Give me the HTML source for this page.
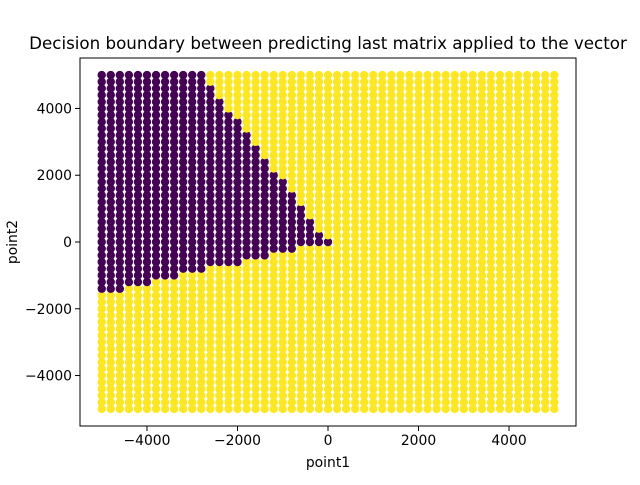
<!DOCTYPE html>
<html><head><meta charset="utf-8"><style>
body{margin:0;background:#fff;}
svg{font-family:"DejaVu Sans","Liberation Sans",sans-serif;}
</style></head><body>
<svg id="chart" width="640" height="480"></svg>
<script>
const xValues = []; for (let v=-5000; v<=5000; v+=200) xValues.push(v);
const yValues = []; for (let v=-5000; v<=5000; v+=200) yValues.push(v);
// purple (class 0) range per column for x=-5000..0
const purpleCols = [-5000,-4800,-4600,-4400,-4200,-4000,-3800,-3600,-3400,-3200,-3000,-2800,-2600,-2400,-2200,-2000,-1800,-1600,-1400,-1200,-1000,-800,-600,-400,-200,0];
const purpleLower = [-1400,-1400,-1400,-1200,-1200,-1200,-1000,-1000,-1000,-800,-800,-800,-600,-600,-600,-600,-400,-400,-400,-200,-200,-200,0,0,0,0];
const purpleUpper = [5000,5000,5000,5000,5000,5000,5000,5000,5000,5000,5000,5000,4600,4200,3800,3600,3200,2800,2400,2000,1800,1400,1000,600,200,0];
const xTicks = [-4000,-2000,0,2000,4000];
const yTicks = [-4000,-2000,0,2000,4000];

const L=80,R=576,T=58,B=426, XMIN=-5480,XMAX=5480,YMIN=-5512,YMAX=5512;
const sx=v=>L+(v-XMIN)/(XMAX-XMIN)*(R-L);
const sy=v=>B-(v-YMIN)/(YMAX-YMIN)*(B-T);
const NS="http://www.w3.org/2000/svg";
const svg=document.getElementById('chart');
function mk(tag,attrs,parent){const e=document.createElementNS(NS,tag);for(const k in attrs)e.setAttribute(k,attrs[k]);(parent||svg).appendChild(e);return e;}

const pts=mk('g',{});


function cls(x,y){const i=purpleCols.indexOf(x);if(i<0)return 1;return (y>=purpleLower[i]&&y<=purpleUpper[i])?0:1;}
for(const x of xValues){for(const y of yValues){
  const c=mk('circle',{cx:sx(x).toFixed(2),cy:sy(y).toFixed(2),r:4.2,fill:cls(x,y)===0?'#440154':'#fde725'},pts);
  
  
}}
const frame=mk('rect',{x:L,y:T,width:R-L,height:B-T,fill:'none',stroke:'#000','stroke-width':1});


for(const t of xTicks){
  const g=mk('g',{});
  
  
  mk('line',{x1:sx(t),x2:sx(t),y1:B,y2:B+5,stroke:'#000'},g);
  const tx=mk('text',{x:sx(t),y:B+19,'text-anchor':'middle','font-size':13.9,fill:'#000'},g);
  tx.textContent=t<0?'\u2212'+(-t):String(t);
}
for(const t of yTicks){
  const g=mk('g',{});
  
  
  mk('line',{x1:L-5,x2:L,y1:sy(t),y2:sy(t),stroke:'#000'},g);
  const tx=mk('text',{x:L-8,y:sy(t)+5,'text-anchor':'end','font-size':13.9,fill:'#000'},g);
  tx.textContent=t<0?'\u2212'+(-t):String(t);
}
</script>
<div style="position:absolute;left:0;top:0;width:640px;height:480px;pointer-events:none;">
<svg width="640" height="480" style="position:absolute;left:0;top:0">
<text x="328" y="49" text-anchor="middle" font-size="16.7" fill="#000">Decision boundary between predicting last matrix applied to the vector</text>
<text x="328" y="467" text-anchor="middle" font-size="13.9" fill="#000">point1</text>
<text x="17" y="242" text-anchor="middle" font-size="13.9" fill="#000" transform="rotate(-90 17 242)">point2</text>
</svg></div>
</body></html>
